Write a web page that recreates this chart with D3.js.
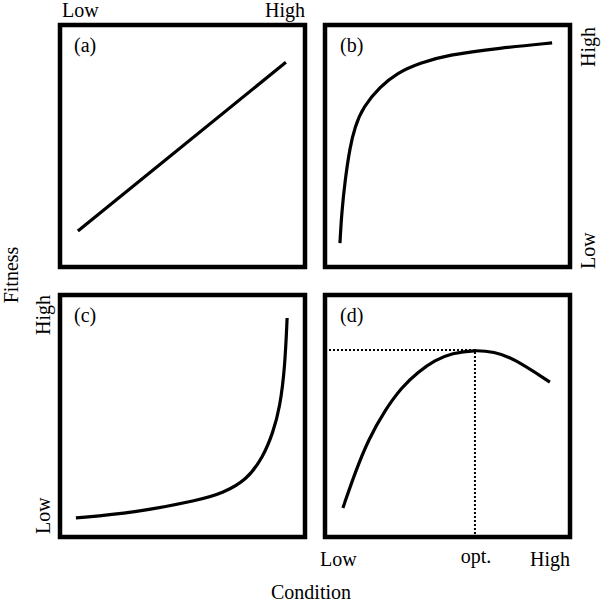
<!DOCTYPE html>
<html>
<head>
<meta charset="utf-8">
<script src="https://cdn.jsdelivr.net/npm/d3@7"></script>
<style>
  body { margin: 0; background: #fff; }
  text { font-family: "Liberation Serif", "DejaVu Serif", serif; font-size: 20px; fill: #000; }
</style>
</head>
<body>
<div id="chart"></div>
<script>
// condition (0-10) vs fitness (0-10)
var panelLetters = ['(a)', '(b)', '(c)', '(d)'];
var curveA = [[0.73, 1.49], [9.22, 8.46]];
var curveB = [[0.61, 0.99], [0.68, 2.23], [0.82, 3.60], [1.02, 4.96], [1.22, 5.79], [1.55, 6.61],
              [2.24, 7.44], [2.94, 8.02], [3.88, 8.43], [4.98, 8.76], [7.14, 9.05], [9.27, 9.26]];
var curveC = [[0.65, 0.79], [2.98, 0.99], [5.71, 1.53], [6.65, 1.82], [7.63, 2.36], [8.29, 3.31],
              [8.69, 4.30], [8.98, 5.37], [9.18, 7.02], [9.27, 9.05]];
var curveD = [[0.73, 1.20], [1.22, 2.64], [1.76, 4.01], [2.45, 5.25], [3.14, 6.20], [3.80, 6.82],
              [4.49, 7.31], [5.18, 7.60], [6.12, 7.73], [6.90, 7.65], [7.67, 7.40], [9.18, 6.40]];
var optimum = [6.12, 7.73];
var axisLabels = ['Low', 'High'];
var optLabel = 'opt.';

var width = 601, height = 602;
var cols = [60, 325], rows = [25, 295];
var pw = 245, ph = 242;

var svg = d3.select('#chart').append('svg')
    .attr('width', width)
    .attr('height', height);

var panels = [
  {c: 0, r: 0, data: curveA},
  {c: 1, r: 0, data: curveB},
  {c: 0, r: 1, data: curveC},
  {c: 1, r: 1, data: curveD}
];

panels.forEach(function(p, i) {
  var x = d3.scaleLinear().domain([0, 10]).range([cols[p.c], cols[p.c] + pw]);
  var y = d3.scaleLinear().domain([0, 10]).range([rows[p.r] + ph, rows[p.r]]);
  p.x = x; p.y = y;

  if (i == 3) {
    // dotted guides to the optimum
    svg.append('path')
      .attr('d', 'M' + x(0) + ',' + y(optimum[1]) + 'H' + x(optimum[0]) + 'V' + y(0))
      .attr('fill', 'none')
      .attr('stroke', '#000')
      .attr('stroke-width', 2)
      .attr('stroke-dasharray', '2,2');
  }

  var line = d3.line()
      .x(function(d) { return x(d[0]); })
      .y(function(d) { return y(d[1]); })
      .curve(d3.curveBasis);

  svg.append('path')
    .attr('d', line(p.data))
    .attr('fill', 'none')
    .attr('stroke', '#000')
    .attr('stroke-width', 3.2);

  svg.append('rect')
    .attr('x', x(0)).attr('y', y(10))
    .attr('width', pw).attr('height', ph)
    .attr('fill', 'none')
    .attr('stroke', '#000')
    .attr('stroke-width', 4.5);

  svg.append('text')
    .attr('x', x(0) + (p.c ? 15 : 14))
    .attr('y', y(10) + 27)
    .text(panelLetters[i]);
});

// top labels over panel (a)
var pa = panels[0];
svg.append('text').attr('x', pa.x(0) + 2).attr('y', 17).text(axisLabels[0]);
svg.append('text').attr('x', pa.x(10)).attr('y', 17).attr('text-anchor', 'end').text(axisLabels[1]);

// right labels of panel (b)
var pb = panels[1];
svg.append('text').attr('transform', 'translate(595,' + (pb.y(10) + 42) + ') rotate(-90)').text(axisLabels[1]);
svg.append('text').attr('transform', 'translate(595,' + (pb.y(0) + 2) + ') rotate(-90)').text(axisLabels[0]);

// left labels of panel (c)
var pc = panels[2];
svg.append('text').attr('transform', 'translate(50,' + (pc.y(10) + 40) + ') rotate(-90)').text(axisLabels[1]);
svg.append('text').attr('transform', 'translate(50,' + (pc.y(0) - 3) + ') rotate(-90)').text(axisLabels[0]);

// bottom labels of panel (d)
var pd = panels[3];
svg.append('text').attr('x', pd.x(0) - 5).attr('y', 566).text(axisLabels[0]);
svg.append('text').attr('x', pd.x(optimum[0]) + 1).attr('y', 563).attr('text-anchor', 'middle').text(optLabel);
svg.append('text').attr('x', pd.x(10)).attr('y', 566).attr('text-anchor', 'end').text(axisLabels[1]);

// axis titles
svg.append('text').attr('x', 311).attr('y', 599).attr('text-anchor', 'middle').text('Condition');
svg.append('text').attr('transform', 'translate(18,275) rotate(-90)').attr('text-anchor', 'middle').text('Fitness');
</script>
</body>
</html>
